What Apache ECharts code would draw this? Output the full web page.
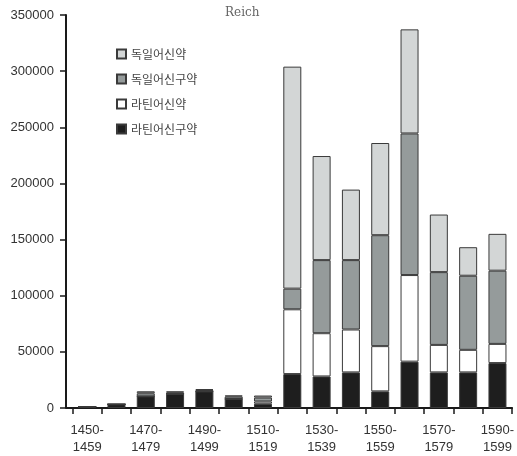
<!DOCTYPE html>
<html>
<head>
<meta charset="utf-8">
<script src="https://cdn.jsdelivr.net/npm/echarts@6/dist/echarts.min.js"></script>
<style>
html,body{margin:0;padding:0;background:#fff;}
#chart{width:517px;height:456px;}
</style>
</head>
<body>
<div id="chart"></div>
<script>
const categories = ['1450-\n1459','1460-\n1469','1470-\n1479','1480-\n1489','1490-\n1499','1500-\n1509','1510-\n1519','1520-\n1529','1530-\n1539','1540-\n1549','1550-\n1559','1560-\n1569','1570-\n1579','1580-\n1589','1590-\n1599'];
const latinFull  = [1200, 3300, 10400, 12800, 14800, 8000, 3800, 30200, 28100, 31700, 14800, 41300, 31700, 31700, 40000];
const latinNT    = [0, 0, 0, 0, 0, 0, 2000, 57700, 38500, 38200, 40300, 77100, 24500, 20100, 17100];
const germanFull = [0, 0, 2700, 1000, 1200, 2200, 3500, 18400, 65100, 61800, 98800, 126100, 64800, 66000, 65200];
const germanNT   = [0, 0, 1800, 1000, 800, 1000, 1800, 197700, 92700, 62800, 82100, 92700, 51300, 25400, 32800];
const yTicks = [0, 50000, 100000, 150000, 200000, 250000, 300000, 350000];

const chart = echarts.init(document.getElementById('chart'));
const border = '#3a3a3a';
function bar(name, data, color) {
  return {
    name: name, type: 'bar', stack: 'total', data: data, barWidth: 18,
    itemStyle: { color: color, borderColor: border, borderWidth: 1 }
  };
}
const gridLeft = 72.5, yOffset = 6.5;
chart.setOption({
  animation: false,
  title: {
    text: 'Reich', left: 220, top: 2,
    textStyle: { fontFamily: 'DejaVu Serif', fontSize: 12, fontWeight: 'normal', color: '#666' }
  },
  legend: {
    orient: 'vertical', left: 111, top: 42, itemWidth: 9, itemHeight: 9, itemGap: 11,
    icon: 'rect',
    data: ['독일어신약', '독일어신구약', '라틴어신약', '라틴어신구약'],
    textStyle: { fontFamily: 'Noto Sans CJK KR', fontSize: 12, color: '#444', lineHeight: 14 }
  },
  grid: { left: gridLeft, right: 2.5, top: 15, bottom: 46, containLabel: false },
  xAxis: {
    type: 'category', data: categories,
    axisLine: { lineStyle: { color: '#1a1a1a', width: 2 } },
    axisTick: { show: true, interval: 0, length: 6, lineStyle: { color: '#1a1a1a', width: 1.5 } },
    axisLabel: { interval: 1, margin: 14, fontFamily: 'Liberation Sans', fontSize: 13, color: '#333', lineHeight: 17 }
  },
  yAxis: {
    type: 'value', min: 0, max: yTicks[yTicks.length - 1], interval: yTicks[1] - yTicks[0], offset: yOffset,
    axisLine: { show: true, lineStyle: { color: '#1a1a1a', width: 2 } },
    axisTick: { show: true, length: 6, lineStyle: { color: '#1a1a1a', width: 1.5 } },
    splitLine: { show: false },
    axisLabel: { margin: 12, fontFamily: 'Liberation Sans', fontSize: 13, color: '#333', formatter: function (v) { return String(v); } }
  },
  series: [
    bar('라틴어신구약', latinFull, '#1e1e1e'),
    bar('라틴어신약', latinNT, '#ffffff'),
    bar('독일어신구약', germanFull, '#959b9b'),
    bar('독일어신약', germanNT, '#d3d6d6')
  ]
});
const y0 = chart.convertToPixel({ yAxisIndex: 0 }, 0);
chart.setOption({
  graphic: [{
    type: 'line', silent: true,
    shape: { x1: gridLeft - yOffset, y1: y0, x2: gridLeft, y2: y0 },
    style: { stroke: '#1a1a1a', lineWidth: 2 }
  }]
});
</script>
</body>
</html>
